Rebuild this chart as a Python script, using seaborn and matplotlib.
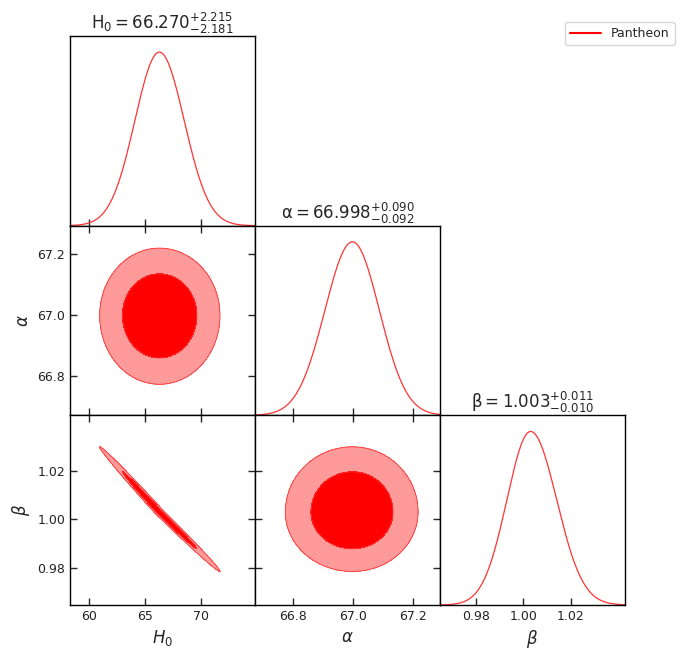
import numpy as np
import matplotlib
matplotlib.use("Agg")
import matplotlib.pyplot as plt
from matplotlib.lines import Line2D
import seaborn as sns

# Posterior summary for the Pantheon fit
param_labels = [r"$H_0$", r"$\alpha$", r"$\beta$"]
title_names = [r"\mathrm{H_0}", r"\mathrm{\alpha}", r"\mathrm{\beta}"]
best_fit = [66.270, 66.998, 1.003]
err_plus = [2.215, 0.090, 0.011]
err_minus = [2.181, 0.092, 0.010]
correlation = [[1.0, 0.0, -0.996],
               [0.0, 1.0, 0.0],
               [-0.996, 0.0, 1.0]]

axis_ranges = [(58.3, 74.8), (66.672, 67.291), (0.9648, 1.0428)]
tick_values = [[60, 65, 70], [66.8, 67.0, 67.2], [0.98, 1.00, 1.02]]
tick_labels = [["60", "65", "70"], ["66.8", "67.0", "67.2"], ["0.98", "1.00", "1.02"]]
title_digits = [3, 3, 3]

dataset = "Pantheon"
line_color = "#ff3333"
inner_fill = "#ff0000"
outer_fill = "#ff9a9a"
conf_levels = [0.95, 0.68]

sns.set_style("white")
plt.rcParams["font.family"] = ["DejaVu Sans"]
plt.rcParams["mathtext.fontset"] = "dejavusans"

n = len(param_labels)
fig, axes = plt.subplots(n, n, figsize=(6.83, 6.5), dpi=100)
fig.subplots_adjust(left=70 / 683, right=625 / 683, top=1 - 36 / 650,
                    bottom=1 - 605 / 650, wspace=0, hspace=0)


def sigma_of(i, x):
    return np.where(x >= best_fit[i], err_plus[i], err_minus[i])


def marginal(i, x):
    return np.exp(-0.5 * ((x - best_fit[i]) / sigma_of(i, x)) ** 2)


def joint(i, j, X, Y):
    # Gaussian joint posterior of parameter i (x) and j (y)
    sx = sigma_of(i, X)
    sy = sigma_of(j, Y)
    r = correlation[i][j]
    u = (X - best_fit[i]) / sx
    v = (Y - best_fit[j]) / sy
    return np.exp(-0.5 * (u * u - 2 * r * u * v + v * v) / (1 - r * r))


def density_levels(P, fractions):
    flat = np.sort(P.ravel())[::-1]
    cum = np.cumsum(flat)
    cum /= cum[-1]
    return [flat[np.searchsorted(cum, f)] for f in fractions]


for row in range(n):
    for col in range(n):
        ax = axes[row, col]
        for s in ax.spines.values():
            s.set_color("black")
            s.set_linewidth(1.0)
        if col > row:
            ax.set_visible(False)
            continue
        ax.set_xlim(*axis_ranges[col])
        ax.set_xticks(tick_values[col])
        if col == row:
            x = np.linspace(*axis_ranges[col], 600)
            y = marginal(col, x)
            sns.lineplot(x=x, y=y, ax=ax, color=line_color, lw=0.9)
            ax.set_ylim(0, 1.093)
            ax.set_yticks([])
            ax.tick_params(axis="x", direction="in", length=5, width=1,
                           bottom=True, top=False)
            sign_fmt = "%%.%df" % title_digits[col]
            ttl = (r"$%s = %s^{+%s}_{-%s}$" % (
                title_names[col], sign_fmt % best_fit[col],
                sign_fmt % err_plus[col], sign_fmt % err_minus[col]))
            ax.set_title(ttl, fontsize=12, pad=5)
        else:
            ax.set_ylim(*axis_ranges[row])
            ax.set_yticks(tick_values[row])
            gx = np.linspace(*axis_ranges[col], 500)
            gy = np.linspace(*axis_ranges[row], 500)
            X, Y = np.meshgrid(gx, gy)
            P = joint(col, row, X, Y)
            lv = density_levels(P, conf_levels)
            ax.contourf(X, Y, P, levels=[lv[0], lv[1]], colors=[outer_fill])
            ax.contourf(X, Y, P, levels=[lv[1], P.max() * 1.01], colors=[inner_fill])
            ax.contour(X, Y, P, levels=lv, colors=[line_color], linewidths=0.6)
            ax.tick_params(direction="in", length=5, width=1,
                           bottom=True, top=True, left=True, right=True)
        ax.set_xlabel("")
        ax.set_ylabel("")
        if row == n - 1:
            ax.set_xticklabels(tick_labels[col], fontsize=9, color="#222222")
            ax.set_xlabel(param_labels[col], fontsize=12)
        else:
            ax.set_xticklabels([])
        if col == 0 and row > 0:
            ax.set_yticklabels(tick_labels[row], fontsize=9, color="#222222")
            ax.set_ylabel(param_labels[row], fontsize=12)
        elif col != row:
            ax.set_yticklabels([])

handle = Line2D([], [], color="red", lw=1.5)
fig.legend([handle], [dataset], loc="upper right",
           bbox_to_anchor=(0.988, 0.966), borderaxespad=0, fontsize=9,
           frameon=True, handlelength=2.5)

fig.savefig("out.png", dpi=100)
